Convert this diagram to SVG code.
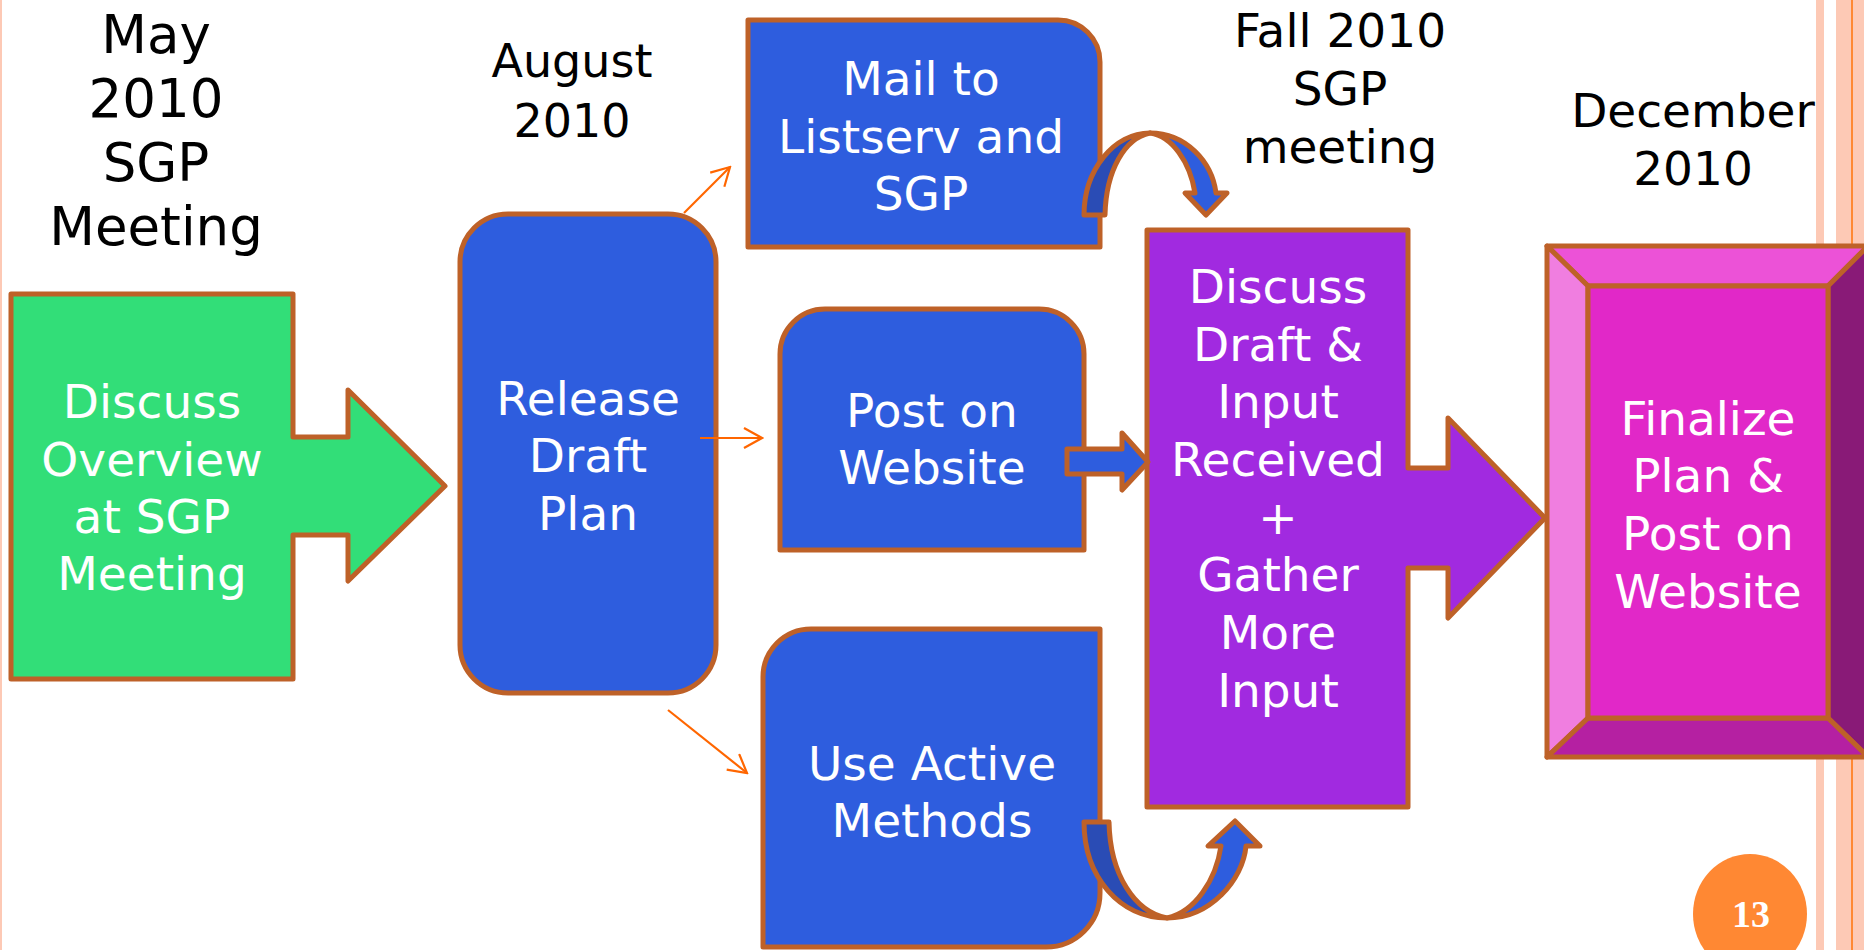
<svg xmlns="http://www.w3.org/2000/svg" width="1864" height="950" viewBox="0 0 1864 950">
<defs>
<style>
.bx{stroke:#BE6128;stroke-width:5;stroke-linejoin:round}
.nt{font-family:"DejaVu Sans","Verdana",sans-serif;font-size:47px;fill:#FFFFFF;text-anchor:middle}
.lb{font-family:"DejaVu Sans","Verdana",sans-serif;fill:#000000;text-anchor:middle}
.thin{stroke:#FF6600;stroke-width:2.2;fill:none}
.bar{fill:#FDC9B5}
</style>
<marker id="oa" viewBox="0 -1 21 22" refX="19" refY="10" markerWidth="21" markerHeight="22" markerUnits="userSpaceOnUse" orient="auto">
<path d="M1,0 L19,10 L1,20" fill="none" stroke="#FF6600" stroke-width="2.2"/>
</marker>
</defs>
<rect width="1864" height="950" fill="#FFFFFF"/>
<g id="decor">
<rect x="0" y="0" width="2" height="950" class="bar"/>
<rect x="1816" y="0" width="8" height="950" class="bar"/>
<rect x="1836" y="0" width="28" height="950" class="bar"/>
<rect x="1851" y="0" width="2" height="950" fill="#FF8833"/>
</g>
<g id="labels">
<text class="lb" font-size="53" x="156"><tspan x="156" y="53">May</tspan><tspan x="156" y="117">2010</tspan><tspan x="156" y="181">SGP</tspan><tspan x="156" y="245">Meeting</tspan></text>
<text class="lb" font-size="46"><tspan x="572" y="77">August</tspan><tspan x="572" y="137">2010</tspan></text>
<text class="lb" font-size="47"><tspan x="1340" y="47">Fall 2010</tspan><tspan x="1340" y="105">SGP</tspan><tspan x="1340" y="163">meeting</tspan></text>
<text class="lb" font-size="47"><tspan x="1693" y="127">December</tspan><tspan x="1693" y="185">2010</tspan></text>
</g>
<g id="node-discuss-overview">
<polygon class="bx" fill="#32DE78" points="11,294 293,294 293,437 348,437 348,390 445,486 348,581 348,535 293,535 293,679 11,679"/>
<text class="nt"><tspan x="152" y="418">Discuss</tspan><tspan x="152" y="476">Overview</tspan><tspan x="152" y="533">at SGP</tspan><tspan x="152" y="590">Meeting</tspan></text>
</g>
<g id="node-release">
<rect class="bx" fill="#2E5DDE" x="460" y="214" width="256" height="479" rx="48" ry="48"/>
<text class="nt"><tspan x="588" y="415">Release</tspan><tspan x="588" y="472">Draft</tspan><tspan x="588" y="530">Plan</tspan></text>
</g>
<g id="node-mail">
<path class="bx" fill="#2E5DDE" d="M748,20 H1058 A42,42 0 0 1 1100,62 V247 H748 Z"/>
<text class="nt"><tspan x="921" y="95">Mail to</tspan><tspan x="921" y="153">Listserv and</tspan><tspan x="921" y="210">SGP</tspan></text>
</g>
<g id="node-post">
<path class="bx" fill="#2E5DDE" d="M780,550 V354 A45,45 0 0 1 825,309 H1039 A45,45 0 0 1 1084,354 V550 Z"/>
<text class="nt"><tspan x="932" y="427">Post on</tspan><tspan x="932" y="484">Website</tspan></text>
</g>
<g id="node-active">
<path class="bx" fill="#2E5DDE" d="M763,677 A48,48 0 0 1 811,629 H1100 V893 A54,54 0 0 1 1046,947 H763 Z"/>
<text class="nt"><tspan x="932" y="780">Use Active</tspan><tspan x="932" y="837">Methods</tspan></text>
</g>
<g id="node-discuss-draft">
<polygon class="bx" fill="#A12AE0" points="1147,230 1408,230 1408,468 1448,468 1448,418 1545,518 1448,618 1448,568 1408,568 1408,807 1147,807"/>
<text class="nt"><tspan x="1278" y="303">Discuss</tspan><tspan x="1278" y="361">Draft &amp;</tspan><tspan x="1278" y="418">Input</tspan><tspan x="1278" y="476">Received</tspan><tspan x="1278" y="534">+</tspan><tspan x="1278" y="591">Gather</tspan><tspan x="1278" y="649">More</tspan><tspan x="1278" y="707">Input</tspan></text>
</g>
<g id="node-finalize">
<polygon class="bx" fill="#EC52D7" points="1547,246 1868,246 1828,286 1588,286"/>
<polygon class="bx" fill="#F07EE0" points="1547,246 1588,286 1588,718 1547,757"/>
<polygon class="bx" fill="#891A77" points="1868,246 1868,757 1828,718 1828,286"/>
<polygon class="bx" fill="#B520A2" points="1547,757 1588,718 1828,718 1868,757"/>
<rect class="bx" fill="#E128C8" x="1588" y="286" width="240" height="432"/>
<text class="nt"><tspan x="1708" y="435">Finalize</tspan><tspan x="1708" y="492">Plan &amp;</tspan><tspan x="1708" y="550">Post on</tspan><tspan x="1708" y="608">Website</tspan></text>
</g>
<g id="connectors">
<line class="thin" x1="684" y1="213" x2="730" y2="167" marker-end="url(#oa)"/>
<line class="thin" x1="700" y1="438" x2="762" y2="438" marker-end="url(#oa)"/>
<line class="thin" x1="668" y1="710" x2="747" y2="773" marker-end="url(#oa)"/>
<polygon class="bx" fill="#2E5DDE" points="1067,449 1122,449 1122,433 1148,462 1122,490 1122,474 1067,474"/>
<path class="bx" fill="#2A4CB5" d="M1084,215 C1084,170 1114,133 1150,133 C1125,138 1106,170 1105,215 Z"/>
<path class="bx" fill="#2E5DDE" d="M1150,133 C1186,133 1212,162 1216,193 L1227,193 L1206,215 L1185,193 L1195,193 C1190,162 1172,136 1150,133 Z"/>
<path class="bx" fill="#2A4CB5" d="M1084,822 C1084,877 1120,918 1167,918 C1135,912 1110,875 1109,822 Z"/>
<path class="bx" fill="#2E5DDE" d="M1167,918 C1210,918 1243,880 1246,846 L1260,846 L1235,821 L1208,846 L1221,846 C1216,880 1195,912 1167,918 Z"/>
</g>
<g id="page-number">
<ellipse cx="1750" cy="914" rx="57" ry="60" fill="#FF8833"/>
<text x="1751" y="927" font-family="Liberation Serif, serif" font-weight="bold" font-size="38" fill="#FFFFFF" text-anchor="middle">13</text>
</g>
</svg>
